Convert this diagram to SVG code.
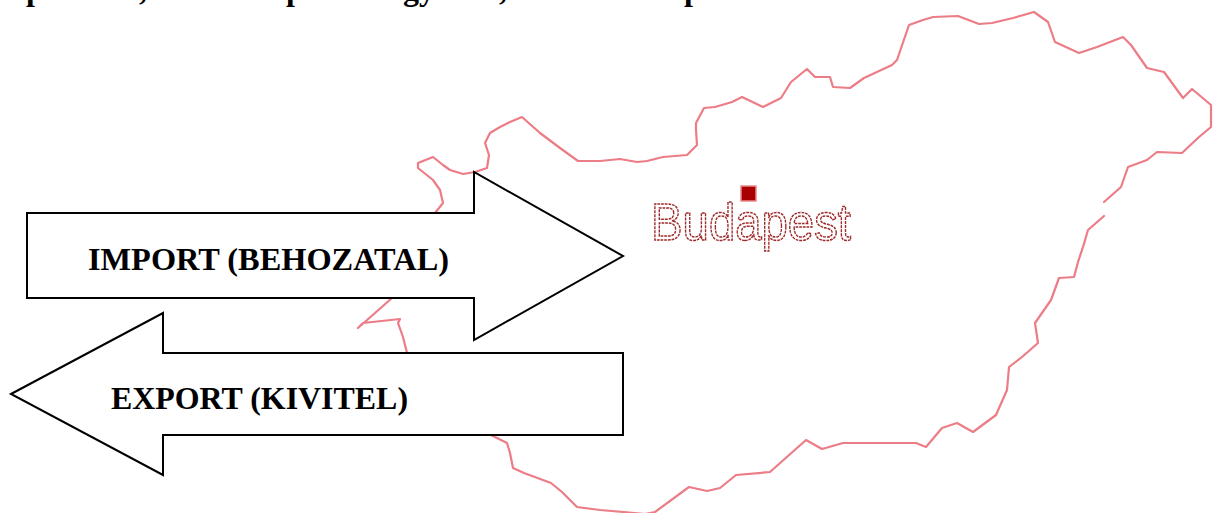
<svg xmlns="http://www.w3.org/2000/svg" width="1218" height="513" viewBox="0 0 1218 513">
<style>
.title{font-family:"Liberation Serif","Times New Roman",serif;font-weight:bold;font-size:32px;fill:#000}
.map{fill:none;stroke:#EC7C86;stroke-width:2.2;stroke-linejoin:round;stroke-linecap:round}
.arrow{fill:#fff;stroke:#000;stroke-width:2;stroke-linejoin:miter}
.lbl{font-family:"Liberation Serif","Times New Roman",serif;font-weight:bold;font-size:32px;fill:#000}
.city{font-family:"Liberation Sans",Arial,sans-serif;font-size:52px;fill:#fff;stroke:#9E2A2A;stroke-width:1.5;stroke-dasharray:3 1}
</style>
<rect width="1218" height="513" fill="#fff"/>
<g id="title">
<text class="title" y="0"><tspan x="26">p</tspan><tspan x="139">,</tspan><tspan x="286">p</tspan><tspan x="403">gy</tspan><tspan x="499">,</tspan><tspan x="684">p</tspan></text>
</g>
<g id="map">
<path class="map" d="M435,213 L443,203 L440,190 L433,180 L418,168 L418,163 L433,157 L443,165 L450,170 L463,174 L475,172 L487,168 L489,155 L485,143 L490,133 L500,127 L510,122 L522,117 L540,133 L560,148 L578,161 L600,161 L620,159 L637,162 L647,161 L663,157 L687,155 L697,145 L696,130 L696,123 L704,108 L715,107 L732,102 L742,97 L763,107 L781,98 L791,82 L807,69 L815,77 L830,77 L833,87 L850,88 L864,78 L892,65 L897,60 L909,25 L923,20 L933,17 L958,16 L979,24 L992,23 L1013,18 L1034,12 L1048,22 L1055,42 L1079,53 L1097,47 L1123,37 L1131,45 L1147,68 L1164,72 L1183,98 L1192,89 L1211,105 L1211,127 L1199,137 L1182,153 L1157,152 L1147,160 L1128,167 L1121,187 L1104,202"/>
<path class="map" d="M1104,216 L1088,230 L1083,247 L1078,262 L1074,277 L1059,278 L1051,300 L1035,323 L1038,343 L1022,357 L1009,367 L1007,390 L996,415 L973,432 L957,423 L942,428 L926,447 L916,443 L843,443 L822,449 L806,440 L770,472 L736,475 L720,488 L707,491 L689,487 L655,512 L645,514 L624,512 L600,510 L577,507 L562,492 L551,483 L524,473 L513,468 L510,453 L507,443 L491,435 L407,353 L403,337 L398,323 L400,319 L363,323 L358,328 L392,298 L435,213"/>
</g>
<g id="budapest">
<rect x="741" y="186" width="15" height="15" fill="#A80000" stroke="#E98A8A" stroke-width="1.5"/>
<text class="city" x="651" y="240" textLength="200" lengthAdjust="spacingAndGlyphs">Budapest</text>
</g>
<g id="connectors">
<g id="import">
<polygon class="arrow" points="27,213 474,213 474,172 623,256 474,340 474,298 27,298"/>
<text class="lbl" x="88" y="270" textLength="361" lengthAdjust="spacingAndGlyphs">IMPORT (BEHOZATAL)</text>
</g>
<g id="export">
<polygon class="arrow" points="11,394 163,313 163,353 623,353 623,435 163,435 163,475"/>
<text class="lbl" x="111" y="409" textLength="297" lengthAdjust="spacingAndGlyphs">EXPORT (KIVITEL)</text>
</g>
</g>
</svg>
